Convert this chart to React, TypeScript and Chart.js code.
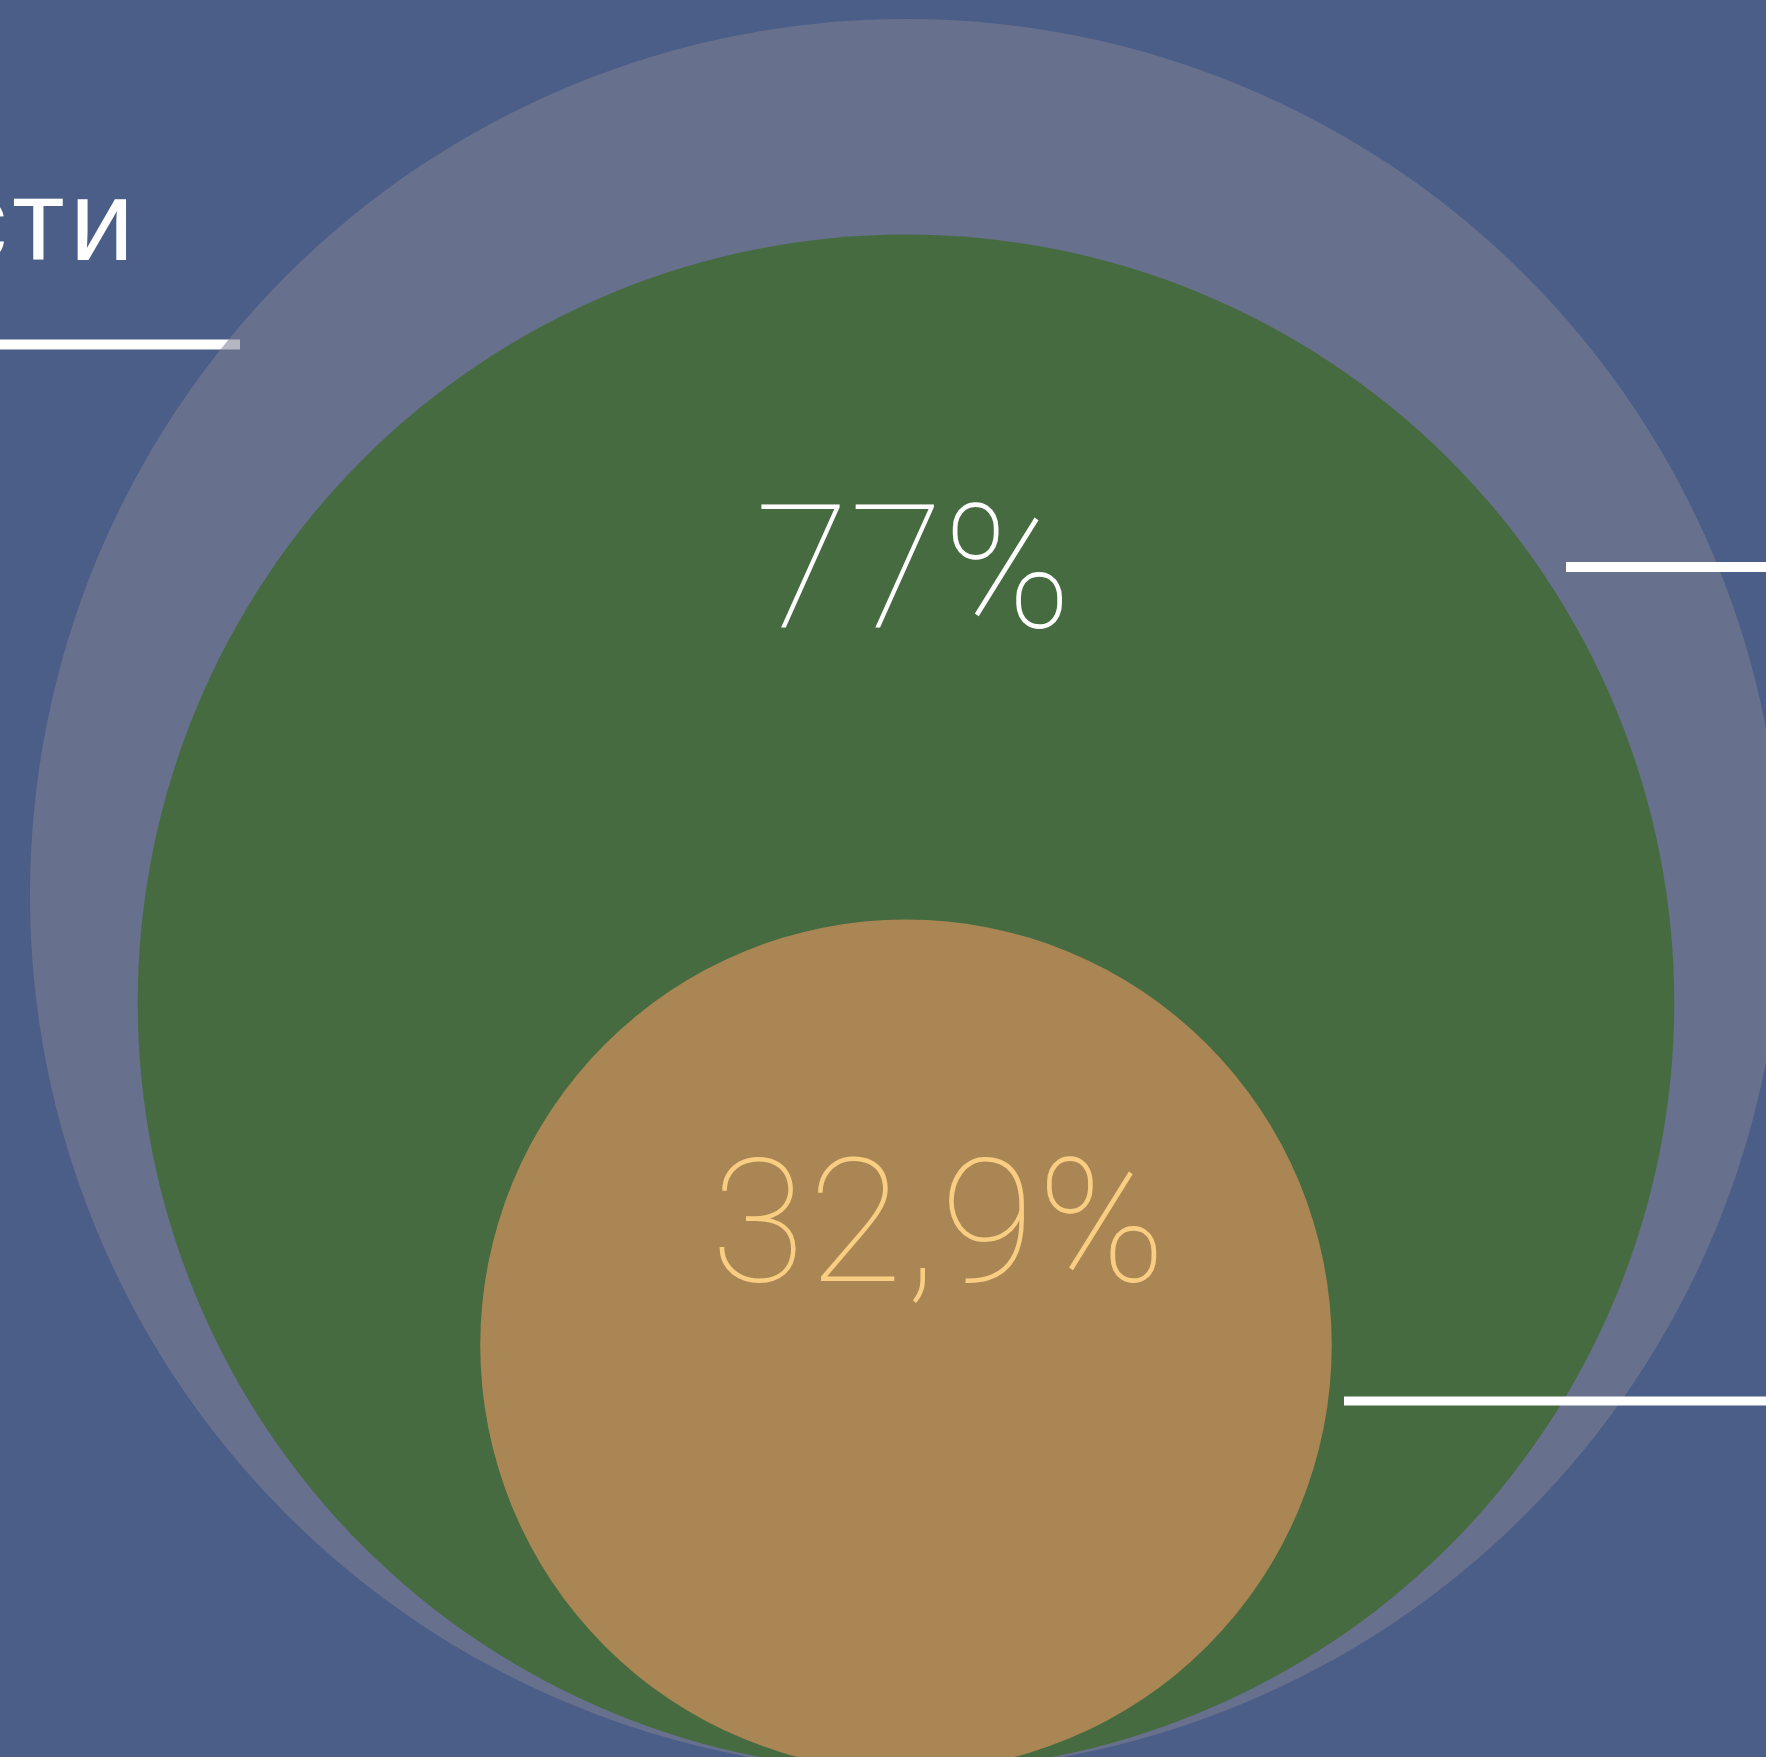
import React, { useEffect, useRef } from "react";
import { Chart, registerables } from "chart.js";

Chart.register(...registerables);

const CANVAS_W = 1766;
const CANVAS_H = 1757;

// Nested circles (drawn bottom-aligned)
const circleNames = ["Всего", "Группа 1", "Группа 2"];
const circleValues = [100, 77, 32.9];
const circleRadii = [1, 0.877, 0.486]; // relative radius
const circleColors = ["rgba(124,126,146,0.57)", "#476B40", "#A98654"];
const labelColors = ["#FFFFFF", "#FFFFFF", "#FACE82"];
const showLabel = [false, true, true];
const captionText = "численности";

const formatPct = (v: number) => `${String(v).replace(".", ",")}%`;

const layoutCfg = {
  bg: "#4B5E87",
  labelPos: [
    { x: 0, y: 0, spacing: 0 },
    { x: 755, y: 627, spacing: 0 },
    { x: 711, y: 1281, spacing: 3 },
  ],
  labelFont: "100 172px Roboto",
  caption: { x: 139, y: 260, font: "400 115px 'Liberation Sans'", spacing: 5 },
  lines: [
    { x1: 0, x2: 240, y: 344.5, w: 10, under: true },
    { x1: 1566, x2: 1766, y: 567, w: 10, under: false },
    { x1: 1344, x2: 1766, y: 1401, w: 9, under: false },
  ],
};

const drawLines = (ctx: CanvasRenderingContext2D, under: boolean) => {
  ctx.save();
  ctx.fillStyle = "#FFFFFF";
  layoutCfg.lines
    .filter((l) => l.under === under)
    .forEach((l) => ctx.fillRect(l.x1, l.y - l.w / 2, l.x2 - l.x1, l.w));
  ctx.restore();
};

const decorPlugin = {
  id: "decor",
  beforeDraw(chart: any) {
    const ctx = chart.ctx as CanvasRenderingContext2D;
    ctx.save();
    ctx.fillStyle = layoutCfg.bg;
    ctx.fillRect(0, 0, chart.width, chart.height);
    // caption
    ctx.fillStyle = "#FFFFFF";
    ctx.font = layoutCfg.caption.font;
    (ctx as any).letterSpacing = `${layoutCfg.caption.spacing}px`;
    ctx.textAlign = "right";
    ctx.textBaseline = "alphabetic";
    ctx.fillText(captionText, layoutCfg.caption.x, layoutCfg.caption.y);
    ctx.restore();
    drawLines(ctx, true);
  },
  afterDatasetsDraw(chart: any) {
    const ctx = chart.ctx as CanvasRenderingContext2D;
    drawLines(ctx, false);
    ctx.save();
    ctx.font = layoutCfg.labelFont;
    ctx.textAlign = "left";
    ctx.textBaseline = "alphabetic";
    circleValues.forEach((v, i) => {
      if (!showLabel[i]) return;
      ctx.fillStyle = labelColors[i];
      const p = layoutCfg.labelPos[i];
      (ctx as any).letterSpacing = `${p.spacing}px`;
      ctx.fillText(formatPct(v), p.x, p.y);
    });
    ctx.restore();
  },
};

export default function App() {
  const ref = useRef<HTMLCanvasElement | null>(null);

  useEffect(() => {
    const canvas = ref.current;
    if (!canvas) return;
    const datasets = circleRadii.map((r, i) => ({
      label: circleNames[i],
      data: [{ x: 0, y: r }],
      backgroundColor: circleColors[i],
      pointBackgroundColor: circleColors[i],
      pointBorderWidth: 0,
      borderWidth: 0,
      pointRadius: (c: any) => {
        const s = c.chart.scales.x;
        return s.getPixelForValue(r) - s.getPixelForValue(0);
      },
      pointHoverRadius: (c: any) => {
        const s = c.chart.scales.x;
        return s.getPixelForValue(r) - s.getPixelForValue(0);
      },
      showLine: false,
      order: circleRadii.length - i,
      clip: false as any,
    }));

    const chart = new Chart(canvas, {
      type: "scatter",
      data: { datasets },
      options: {
        animation: false,
        responsive: false,
        devicePixelRatio: 1,
        events: [],
        layout: { padding: 0 },
        plugins: { legend: { display: false }, tooltip: { enabled: false } },
        scales: {
          x: { type: "linear", display: false, min: -1.0342, max: 0.9817 },
          y: { type: "linear", display: false, min: 0.016, max: 2.0217 },
        },
      },
      plugins: [decorPlugin],
    });
    return () => chart.destroy();
  }, []);

  return (
    <canvas
      ref={ref}
      width={CANVAS_W}
      height={CANVAS_H}
      style={{ position: "fixed", left: 0, top: 0, width: CANVAS_W, height: CANVAS_H, display: "block" }}
    />
  );
}
